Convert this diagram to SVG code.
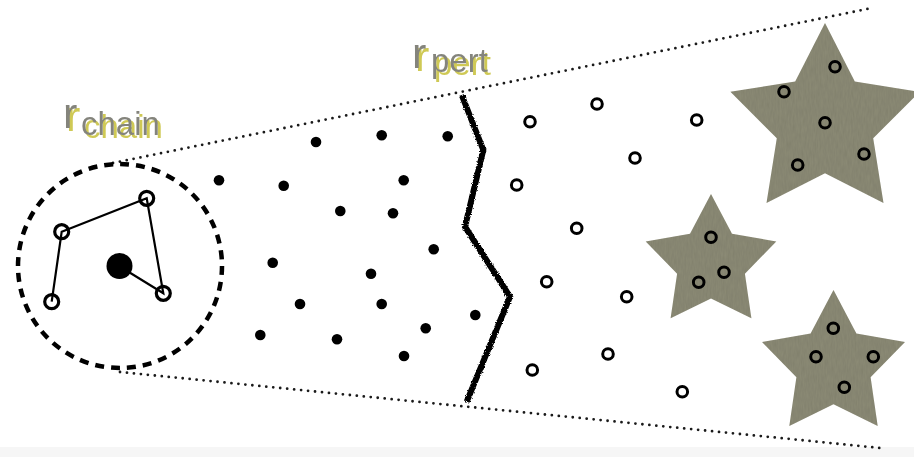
<svg xmlns="http://www.w3.org/2000/svg" width="914" height="457" viewBox="0 0 914 457">
  <defs>
    <filter id="tex" x="0" y="0" width="1" height="1">
      <feTurbulence type="fractalNoise" baseFrequency="0.6 0.12" numOctaves="2" seed="3" result="n"/>
      <feColorMatrix in="n" type="matrix" values="0 0 0 0 0  0 0 0 0 0  0 0 0 0 0  0 0 0 0.18 0" result="na"/>
      <feComposite in="na" in2="SourceGraphic" operator="in" result="nc"/>
      <feMerge><feMergeNode in="SourceGraphic"/><feMergeNode in="nc"/></feMerge>
    </filter>
    <filter id="rough" x="-20%" y="-5%" width="140%" height="110%">
      <feTurbulence type="fractalNoise" baseFrequency="0.9" numOctaves="2" seed="5" result="t"/>
      <feDisplacementMap in="SourceGraphic" in2="t" scale="3" xChannelSelector="R" yChannelSelector="G"/>
    </filter>
    <filter id="ylw" x="-10%" y="-20%" width="130%" height="150%">
      <feOffset in="SourceAlpha" dx="3" dy="3" result="o"/>
      <feFlood flood-color="#cfc955" result="f"/>
      <feComposite in="f" in2="o" operator="in" result="s"/>
      <feMerge><feMergeNode in="s"/><feMergeNode in="SourceGraphic"/></feMerge>
    </filter>
  </defs>
  <style>
    .dotted { fill: none; stroke: #1a1a1a; stroke-width: 2.8; stroke-linecap: round; stroke-dasharray: 0 7; }
    .dash { fill: none; stroke: #000; stroke-width: 4.5; stroke-dasharray: 9 7; }
    .chain { fill: none; stroke: #000; stroke-width: 2.2; }
    .ring { fill: none; stroke: #000; stroke-width: 3.2; }
    .dot { fill: #000; }
    .open { fill: none; stroke: #000; stroke-width: 3; }
    .star { fill: #8d8c77; filter: url(#tex); }
    .lbl { fill: #84847c; font-family: "Liberation Sans", Arial, sans-serif; filter: url(#ylw); }
    .big { font-size: 43px; }
    .sub { font-size: 33px; }
  </style>
  <rect x="0" y="0" width="914" height="457" fill="#ffffff"/>
  <rect x="0" y="447" width="914" height="10" fill="#f6f6f6"/>

  <g id="connectors">
    <line class="dotted" x1="113" y1="163" x2="872" y2="8"/>
    <line class="dotted" x1="120" y1="372" x2="880" y2="448"/>
    <polyline class="chain" points="51.7,301.7 61.7,231.7 146.7,198.3 163.3,293.3 119,266"/>
    <polyline fill="none" stroke="#000" stroke-width="6" stroke-linejoin="miter" filter="url(#rough)" points="461.7,95 483.3,150 465,226.7 510,296.7 466.7,401.7"/>
  </g>

  <g id="chain-region">
    <circle class="dash" cx="120" cy="266" r="102"/>
    <circle class="ring" cx="61.7" cy="231.7" r="7"/>
    <circle class="ring" cx="146.7" cy="198.3" r="7"/>
    <circle class="ring" cx="51.7" cy="301.7" r="7"/>
    <circle class="ring" cx="163.3" cy="293.3" r="7"/>
    <circle class="dot" cx="119.5" cy="266" r="13"/>
  </g>

  <g id="inner-dots">
    <circle class="dot" cx="316" cy="142" r="5.3"/>
    <circle class="dot" cx="381.7" cy="135.3" r="5.3"/>
    <circle class="dot" cx="447.7" cy="136.3" r="5.3"/>
    <circle class="dot" cx="219" cy="180.3" r="5.3"/>
    <circle class="dot" cx="283.7" cy="185.7" r="5.3"/>
    <circle class="dot" cx="403.7" cy="180.3" r="5.3"/>
    <circle class="dot" cx="340.3" cy="211" r="5.3"/>
    <circle class="dot" cx="393" cy="213.3" r="5.3"/>
    <circle class="dot" cx="433.7" cy="249.3" r="5.3"/>
    <circle class="dot" cx="272.7" cy="262.7" r="5.3"/>
    <circle class="dot" cx="371" cy="273.7" r="5.3"/>
    <circle class="dot" cx="300" cy="304" r="5.3"/>
    <circle class="dot" cx="381.7" cy="304" r="5.3"/>
    <circle class="dot" cx="475.3" cy="315" r="5.3"/>
    <circle class="dot" cx="260.3" cy="335" r="5.3"/>
    <circle class="dot" cx="337" cy="339.3" r="5.3"/>
    <circle class="dot" cx="425.7" cy="328.3" r="5.3"/>
    <circle class="dot" cx="404" cy="356" r="5.3"/>
  </g>

  <g id="outer-circles">
    <circle class="open" cx="530" cy="121.7" r="5.3"/>
    <circle class="open" cx="597" cy="104" r="5.3"/>
    <circle class="open" cx="696.7" cy="120" r="5.3"/>
    <circle class="open" cx="516.7" cy="185" r="5.3"/>
    <circle class="open" cx="635" cy="158" r="5.3"/>
    <circle class="open" cx="576.7" cy="228.3" r="5.3"/>
    <circle class="open" cx="546.7" cy="281.7" r="5.3"/>
    <circle class="open" cx="626.7" cy="296.7" r="5.3"/>
    <circle class="open" cx="532.3" cy="370" r="5.3"/>
    <circle class="open" cx="608" cy="354" r="5.3"/>
    <circle class="open" cx="682.3" cy="391.7" r="5.3"/>
  </g>

  <g id="star-large">
    <polygon class="star" points="825,23 854.8,81.5 919.6,91.8 873.2,138.2 883.5,203 825,173.2 766.5,203 776.8,138.2 730.4,91.8 795.2,81.5"/>
    <circle class="open" cx="835" cy="66.7" r="5.3"/>
    <circle class="open" cx="784" cy="91.7" r="5.3"/>
    <circle class="open" cx="825" cy="122.7" r="5.3"/>
    <circle class="open" cx="864" cy="154" r="5.3"/>
    <circle class="open" cx="797.7" cy="165" r="5.3"/>
  </g>

  <g id="star-middle">
    <polygon class="star" points="711,194 732,233.8 776.3,241.5 744.9,273.7 751.4,318.3 711,298.4 670.6,318.3 677.1,273.7 645.7,241.5 690,233.8"/>
    <circle class="open" cx="711" cy="237.3" r="5.3"/>
    <circle class="open" cx="724" cy="272.3" r="5.3"/>
    <circle class="open" cx="698.7" cy="282.3" r="5.3"/>
  </g>

  <g id="star-lower">
    <polygon class="star" points="833.5,290 856.4,333.6 905,342 870.6,377.3 877.7,426 833.5,404.2 789.3,426 796.4,377.3 762,342 810.6,333.6"/>
    <circle class="open" cx="833.3" cy="328.3" r="5.3"/>
    <circle class="open" cx="816" cy="356.7" r="5.3"/>
    <circle class="open" cx="873.3" cy="356.7" r="5.3"/>
    <circle class="open" cx="844.3" cy="387.3" r="5.3"/>
  </g>

  <g id="label-rchain">
    <text class="lbl big" x="63" y="128">r<tspan class="sub" x="81" y="135">chain</tspan></text>
  </g>

  <g id="label-rpert">
    <text class="lbl big" x="412" y="68">r<tspan class="sub" x="431" y="72">pert</tspan></text>
  </g>
</svg>
